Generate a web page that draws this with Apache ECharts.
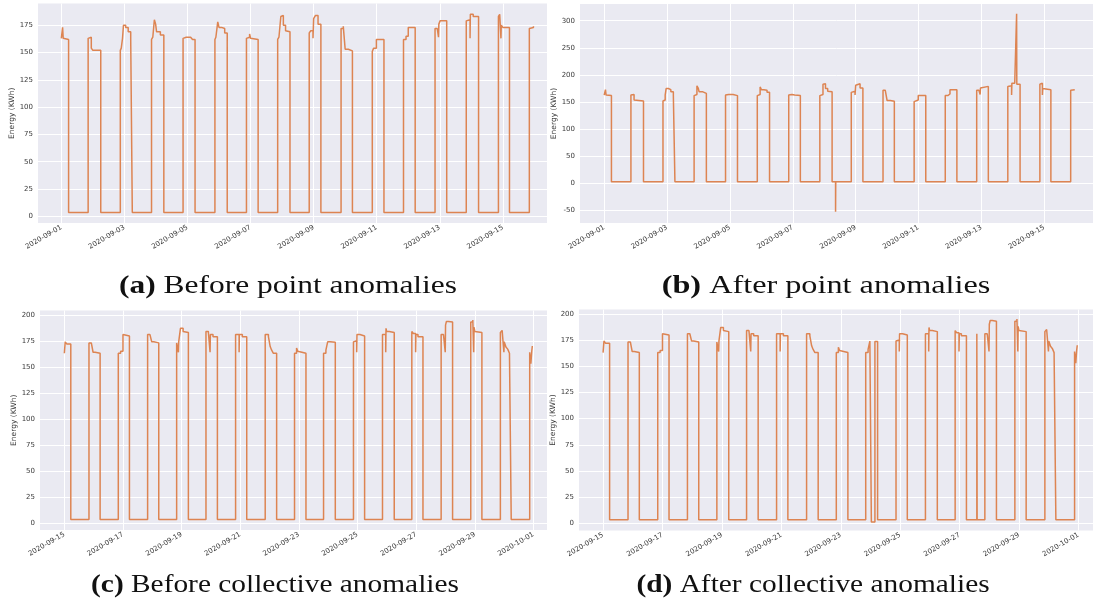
<!DOCTYPE html>
<html>
<head>
<meta charset="utf-8">
<title>Energy before and after anomalies</title>
<script src="https://cdn.jsdelivr.net/npm/echarts@6/dist/echarts.min.js"></script>
<style>
  html, body { margin: 0; padding: 0; background: #fff; }
  #chart { width: 1096px; height: 610px; }
</style>
</head>
<body>
<div id="chart"></div>
<script>
// x = days since the start date of the period, y = energy (KWh); the line holds a value until the next point
const startFirst = '2020-09-01'
const startSecond = '2020-09-15'

const energyFirst = [
  [0.00, 163], [0.02, 168], [0.04, 173], [0.06, 163], [0.08, 162], [0.23, 3.5],
  [0.85, 163], [0.89, 164], [0.95, 154], [1.00, 152], [1.25, 3.5],
  [1.87, 152], [1.90, 154], [1.94, 163], [1.97, 175], [2.04, 173], [2.12, 169], [2.20, 162], [2.25, 3.5],
  [2.86, 162], [2.90, 164], [2.95, 180], [2.99, 176], [3.02, 169], [3.14, 166], [3.25, 3.5],
  [3.86, 163], [3.90, 164], [3.96, 163], [4.02, 164], [4.10, 163], [4.16, 162], [4.24, 3.5],
  [4.87, 162], [4.90, 164], [4.96, 178], [5.00, 173], [5.08, 172], [5.18, 168], [5.26, 3.5],
  [5.87, 163], [5.90, 164], [5.97, 167], [6.00, 163], [6.06, 162], [6.24, 3.5],
  [6.86, 162], [6.90, 164], [6.96, 183], [6.99, 184], [7.04, 175], [7.11, 170], [7.16, 169], [7.25, 3.5],
  [7.86, 168], [7.91, 170], [7.98, 163], [8.00, 181], [8.06, 184], [8.14, 176], [8.23, 3.5],
  [8.87, 172], [8.94, 174], [9.00, 153], [9.10, 151.5], [9.23, 3.5],
  [9.86, 151], [9.90, 154], [9.99, 162], [10.23, 3.5],
  [10.85, 162], [10.93, 165], [11.00, 173], [11.22, 3.5],
  [11.85, 172], [11.92, 173], [11.96, 164], [11.97, 176], [12.01, 179], [12.22, 3.5],
  [12.84, 179], [12.87, 180], [12.96, 163], [12.97, 185], [13.06, 183], [13.23, 3.5],
  [13.86, 183], [13.90, 185], [13.94, 163], [13.95, 175], [14.00, 173], [14.21, 3.5],
  [14.84, 172], [14.90, 173], [14.97, 174]
]

// [day, value] single readings injected into the first period
const pointAnomalies = [[7.36, -52], [13.12, 313]]

const energySecond = [
  [0.00, 163], [0.03, 174], [0.08, 172], [0.22, 3.5],
  [0.84, 173], [0.92, 174], [0.98, 164], [1.05, 163], [1.22, 3.5],
  [1.84, 163], [1.92, 165], [2.00, 181], [2.06, 179.7], [2.22, 3.5],
  [2.84, 181], [2.92, 180], [2.98, 174], [3.05, 173], [3.22, 3.5],
  [3.83, 173], [3.89, 164], [3.90, 174], [3.96, 187], [4.05, 184], [4.11, 183], [4.23, 3.5],
  [4.83, 184], [4.91, 185], [4.97, 164], [4.98, 181], [5.07, 179], [5.22, 3.5],
  [5.84, 181], [5.96, 164], [5.97, 181], [6.07, 179], [6.22, 3.5],
  [6.85, 181], [6.96, 179], [7.02, 169.5], [7.07, 166], [7.13, 163], [7.24, 3.5],
  [7.85, 163], [7.92, 168], [7.96, 165], [8.02, 164], [8.10, 163], [8.24, 3.5],
  [8.84, 163], [8.92, 166], [8.98, 174], [9.06, 173.6], [9.24, 3.5],
  [9.86, 174], [9.91, 175], [9.97, 164], [9.98, 181], [10.08, 179.7], [10.24, 3.5],
  [10.85, 181], [10.96, 164], [10.97, 187], [10.99, 184], [11.08, 183], [11.25, 3.5],
  [11.85, 184], [11.90, 182], [11.98, 164], [11.99, 181], [12.06, 179], [12.23, 3.5],
  [12.85, 181], [12.93, 182], [12.99, 164], [13.00, 190], [13.03, 193.6], [13.10, 193], [13.24, 3.5],
  [13.86, 193], [13.93, 195], [13.96, 164], [13.97, 188], [14.00, 184], [14.06, 183], [14.24, 3.5],
  [14.87, 183], [14.93, 185], [14.99, 164], [15.00, 174], [15.06, 169], [15.12, 167], [15.18, 163], [15.24, 3.5],
  [15.87, 164], [15.91, 153], [15.94, 165], [15.96, 170], [15.98, 170]
]

// [from day, to day, value] stretches overwritten in the second period
const collectiveAnomalies = [[9.03, 9.15, 1.5], [12.58, 12.59, 181]]

const xTicksFirst = [0, 2, 4, 6, 8, 10, 12, 14]
const xTicksSecond = [0, 2, 4, 6, 8, 10, 12, 14, 16]
const yTicksFirst = [0, 25, 50, 75, 100, 125, 150, 175]
const yTicksPoint = [-50, 0, 50, 100, 150, 200, 250, 300]
const yTicksSecond = [0, 25, 50, 75, 100, 125, 150, 175, 200]

const captionTags = ['(a)', '(b)', '(c)', '(d)']
const captionTexts = [
  'Before point anomalies',
  'After point anomalies',
  'Before collective anomalies',
  'After collective anomalies'
]

// value of a step series at day t
function valueAt(points, t) {
  let v = points[0][1]
  for (const p of points) {
    if (p[0] <= t) v = p[1]
  }
  return v
}

function addPoints(points, anomalies) {
  const out = points.slice()
  anomalies.forEach(([t, v]) => {
    const base = valueAt(points, t)
    out.push([t, v], [t + 0.006, base])
  })
  return out.sort((a, b) => a[0] - b[0])
}

function addStretches(points, anomalies) {
  let out = points.slice()
  anomalies.forEach(([from, to, v]) => {
    const base = valueAt(points, to)
    out = out.filter((p) => p[0] < from || p[0] >= to)
    out.push([from, v], [to, base])
  })
  return out.sort((a, b) => a[0] - b[0])
}

function dayLabel(start) {
  const t0 = new Date(start + 'T00:00:00Z').getTime()
  return (d) => new Date(t0 + d * 86400000).toISOString().slice(0, 10)
}

const panels = [
  { data: energyFirst, start: startFirst, xTicks: xTicksFirst, yTicks: yTicksFirst, xMin: -0.74, xMax: 15.4, yMin: -6.1, yMax: 194.9 },
  { data: addPoints(energyFirst, pointAnomalies), start: startFirst, xTicks: xTicksFirst, yTicks: yTicksPoint, xMin: -0.77, xMax: 15.55, yMin: -72.7, yMax: 330.8 },
  { data: energySecond, start: startSecond, xTicks: xTicksSecond, yTicks: yTicksSecond, xMin: -0.83, xMax: 16.46, yMin: -6.7, yMax: 204.1 },
  { data: addStretches(energySecond, collectiveAnomalies), start: startSecond, xTicks: xTicksSecond, yTicks: yTicksSecond, xMin: -0.81, xMax: 16.49, yMin: -6.7, yMax: 204.1 }
]

const grids = [
  { left: 38, top: 3.5, width: 509, height: 219.5 },
  { left: 580, top: 4, width: 513, height: 219 },
  { left: 40, top: 310.5, width: 507, height: 219.5 },
  { left: 579, top: 309.5, width: 514, height: 221 }
]

// caption centre and horizontal stretch (the LaTeX face is wider than Liberation Serif)
const captionPos = [[288, 286], [826, 286], [275, 585], [813, 585]]
const captionStretch = [1.21, 1.24, 1.13, 1.13]

const textColor = '#3a3a3a'
const lineColor = '#DD8452'

const chart = echarts.init(document.getElementById('chart'), null, { renderer: 'canvas' })

const option = {
  animation: false,
  backgroundColor: '#fff',
  grid: grids.map((g) => ({
    ...g,
    show: true,
    backgroundColor: '#EAEAF2',
    borderWidth: 0,
    containLabel: false
  })),
  xAxis: panels.map((p, i) => ({
    type: 'value',
    gridIndex: i,
    min: p.xMin,
    max: p.xMax,
    axisLine: { show: false },
    axisTick: { show: false, customValues: p.xTicks },
    splitLine: { show: true, lineStyle: { color: '#fff', width: 1 } },
    axisLabel: {
      customValues: p.xTicks,
      rotate: 30,
      margin: 4,
      fontSize: 7,
      fontFamily: 'DejaVu Sans',
      color: textColor,
      formatter: dayLabel(p.start)
    }
  })),
  yAxis: panels.map((p, i) => ({
    type: 'value',
    gridIndex: i,
    min: p.yMin,
    max: p.yMax,
    name: 'Energy (KWh)',
    nameLocation: 'middle',
    nameGap: 21,
    nameTextStyle: { fontSize: 7.5, fontFamily: 'DejaVu Sans', color: textColor },
    axisLine: { show: false },
    axisTick: { show: false, customValues: p.yTicks },
    splitLine: { show: true, lineStyle: { color: '#fff', width: 1 } },
    axisLabel: {
      customValues: p.yTicks,
      margin: 5,
      fontSize: 7,
      fontFamily: 'DejaVu Sans',
      color: textColor
    }
  })),
  series: panels.map((p, i) => ({
    type: 'line',
    xAxisIndex: i,
    yAxisIndex: i,
    step: 'end',
    showSymbol: false,
    clip: true,
    data: p.data,
    lineStyle: { color: lineColor, width: 1.5 },
    itemStyle: { color: lineColor }
  })),
  graphic: captionTexts.map((text, i) => ({
    type: 'text',
    x: captionPos[i][0],
    y: captionPos[i][1],
    scaleX: captionStretch[i],
    style: {
      text: '{tag|' + captionTags[i] + '} ' + text,
      align: 'center',
      verticalAlign: 'middle',
      fontFamily: 'Liberation Serif',
      fontSize: 26,
      fill: '#111',
      rich: {
        tag: { fontFamily: 'Liberation Serif', fontSize: 26, fontWeight: 'bold', fill: '#111' }
      }
    }
  }))
}

chart.setOption(option)
</script>
</body>
</html>
